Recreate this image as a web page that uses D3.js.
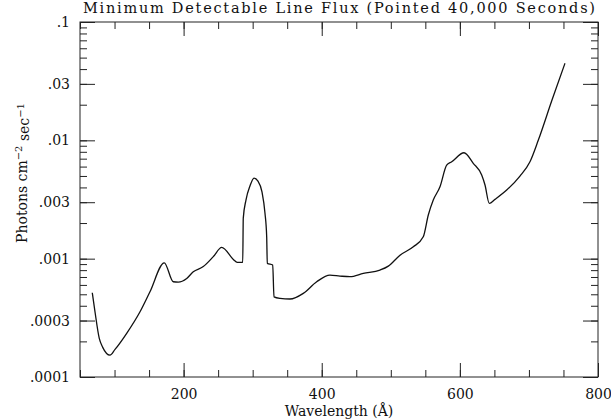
<!DOCTYPE html>
<meta charset="utf-8">
<script src="https://d3js.org/d3.v7.min.js"></script>
<style>
  body { margin: 0; background: #fff; }
  text { font-family: "DejaVu Serif", serif; fill: #111; }
</style>
<div id="chart"></div>
<script>

// curve: wavelength (A) and minimum detectable flux
var wavelength = [67.8, 71.7, 77.9, 82.9, 93.4, 100.7, 117.6, 136.9, 151.3, 172.0,
  185.1, 192.3, 204.5, 214.0, 228.5, 243.0, 255.2, 272.0, 277.7, 285.6,
  286.4, 290.3, 296.1, 301.9, 307.7, 313.5, 317.8, 320.3, 321.2, 329.0,
  330.9, 339.6, 354.0, 373.3, 392.7, 411.9, 426.4, 440.9, 460.2, 484.3,
  496.4, 513.3, 532.6, 547.0, 554.3, 561.5, 571.2, 580.9, 588.2, 606.0,
  619.4, 631.6, 636.4, 642.6, 650.8, 667.8, 687.0, 701.5, 713.5, 733.4, 752.2];
var flux = [5.15e-4, 3.56e-4, 2.12e-4, 1.78e-4, 1.53e-4, 1.71e-4, 2.34e-4, 3.56e-4, 5.25e-4, 9.23e-4,
  6.38e-4, 6.34e-4, 6.81e-4, 7.75e-4, 8.57e-4, 1.04e-3, 1.245e-3, 9.86e-4, 9.31e-4, 9.31e-4,
  2.20e-3, 3.13e-3, 4.11e-3, 4.80e-3, 4.53e-3, 3.66e-3, 2.43e-3, 1.53e-3, 9.12e-4, 8.83e-4,
  4.76e-4, 4.62e-4, 4.56e-4, 5.09e-4, 6.38e-4, 7.27e-4, 7.13e-4, 7.04e-4, 7.51e-4, 8.01e-4,
  8.65e-4, 1.07e-3, 1.26e-3, 1.53e-3, 2.34e-3, 3.13e-3, 4.05e-3, 6.18e-3, 6.59e-3, 7.85e-3,
  6.39e-3, 5.09e-3, 4.19e-3, 2.93e-3, 3.17e-3, 3.80e-3, 4.99e-3, 6.59e-3, 1.0e-2, 2.19e-2, 4.48e-2];

// ticks
var xMinorTicks = [50, 100, 150, 200, 250, 300, 350, 400, 450, 500, 550, 600, 650, 700, 750, 800];
var xLabelTicks = [200, 400, 600, 800];
var yLabelValues = [0.0001, 0.0003, 0.001, 0.003, 0.01, 0.03, 0.1];
var yTickLabels = [".0001", ".0003", ".001", ".003", ".01", ".03", ".1"];

var margin = {top: 22, right: 13, bottom: 43, left: 80},
    width = 611 - margin.left - margin.right,
    height = 420 - margin.top - margin.bottom;

var svg = d3.select("#chart")
  .append("svg")
    .attr("width", 611)
    .attr("height", 420)
  .append("g")
    .attr("transform", "translate(" + margin.left + "," + margin.top + ")");

var x = d3.scaleLinear().domain([50, 800]).range([0, width]);
var y = d3.scaleLog().domain([0.0001, 0.1]).range([height, 0]);

function styleAxis(g) {
  g.select(".domain").remove();
  g.selectAll("line").attr("stroke", "#222").attr("stroke-width", 1);
  g.selectAll("text").style("font-family", "DejaVu Serif").style("font-size", "14px").attr("fill", "#111");
}

// bottom
svg.append("g").attr("transform", "translate(0," + height + ")")
  .call(d3.axisBottom(x).tickValues(xMinorTicks).tickSizeInner(-7).tickSizeOuter(0).tickFormat(""))
  .call(styleAxis);
svg.append("g").attr("transform", "translate(0," + height + ")")
  .call(d3.axisBottom(x).tickValues(xLabelTicks).tickSizeInner(-14).tickSizeOuter(0).tickPadding(12).tickFormat(d3.format("d")))
  .call(styleAxis);
// top
svg.append("g")
  .call(d3.axisTop(x).tickValues(xMinorTicks).tickSizeInner(-7).tickSizeOuter(0).tickFormat(""))
  .call(styleAxis);
svg.append("g")
  .call(d3.axisTop(x).tickValues(xLabelTicks).tickSizeInner(-14).tickSizeOuter(0).tickFormat(""))
  .call(styleAxis);
// left
svg.append("g")
  .call(d3.axisLeft(y).tickValues(y.ticks()).tickSizeInner(-7).tickSizeOuter(0).tickFormat(""))
  .call(styleAxis);
svg.append("g")
  .call(d3.axisLeft(y).tickValues(yLabelValues).tickSizeInner(-15).tickSizeOuter(0).tickPadding(10)
    .tickFormat(function(d, i) { return yTickLabels[i]; }))
  .call(styleAxis);
// right
svg.append("g").attr("transform", "translate(" + width + ",0)")
  .call(d3.axisRight(y).tickValues(y.ticks()).tickSizeInner(-7).tickSizeOuter(0).tickFormat(""))
  .call(styleAxis);
svg.append("g").attr("transform", "translate(" + width + ",0)")
  .call(d3.axisRight(y).tickValues(yLabelValues).tickSizeInner(-15).tickSizeOuter(0).tickFormat(""))
  .call(styleAxis);

// frame
svg.append("rect")
  .attr("width", width).attr("height", height)
  .attr("fill", "none").attr("stroke", "#222").attr("stroke-width", 1);

// curve
var pts = wavelength.map(function(w, i) { return [w, flux[i]]; });
svg.append("path")
  .datum(pts)
  .attr("fill", "none")
  .attr("stroke", "#111")
  .attr("stroke-width", 1.3)
  .attr("d", d3.line()
    .x(function(d) { return x(d[0]); })
    .y(function(d) { return y(d[1]); })
    .curve(d3.curveMonotoneX));

// title, spaced out to the width it has in the reference
svg.append("text")
  .attr("x", width / 2).attr("y", -9)
  .attr("text-anchor", "middle")
  .attr("textLength", 512)
  .attr("lengthAdjust", "spacing")
  .style("font-size", "14.5px")
  .text("Minimum Detectable Line Flux (Pointed 40,000 Seconds)");

// x label
svg.append("text")
  .attr("x", width / 2).attr("y", height + 39)
  .attr("text-anchor", "middle")
  .style("font-size", "14px")
  .text("Wavelength (\u00C5)");

// y label
var yl = svg.append("text")
  .attr("transform", "translate(-53," + (173 - margin.top) + ")rotate(-90)")
  .attr("text-anchor", "middle")
  .style("font-size", "14px");
yl.append("tspan").text("Photons cm");
yl.append("tspan").attr("dy", "-0.5em").style("font-size", "10px").text("\u22122");
yl.append("tspan").attr("dy", "0.5em").text(" sec");
yl.append("tspan").attr("dy", "-0.5em").style("font-size", "10px").text("\u22121");

</script>
